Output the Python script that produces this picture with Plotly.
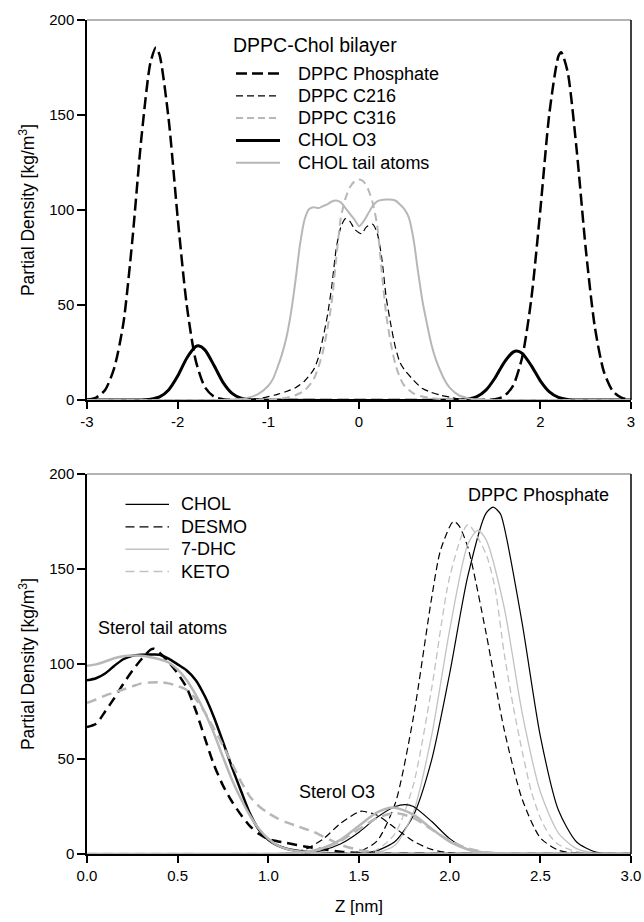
import plotly.graph_objects as go

# ---------------- Upper panel: DPPC-Chol bilayer (z from -3 to 3 nm) ----------------
phos_top_x = [-3.0, -2.9, -2.8, -2.7, -2.6, -2.5, -2.4, -2.3, -2.24, -2.2, -2.1, -2.0, -1.9, -1.8,
              -1.7, -1.6, -1.5, -1.4, -1.3, 0.0, 1.3, 1.4, 1.5, 1.6, 1.7, 1.8, 1.9, 2.0, 2.1, 2.2,
              2.23, 2.3, 2.4, 2.5, 2.6, 2.7, 2.8, 2.9, 3.0]
phos_top_y = [0.2, 1.3, 5.3, 16.8, 40, 84, 138, 177.6, 185.5, 181.7, 148, 96, 50, 20.6,
              6.8, 1.8, 0.4, 0.1, 0, 0, 0, 0.1, 0.4, 2, 7.6, 22.5, 53, 100, 151, 181,
              183, 173, 132, 80, 38.8, 15, 4.6, 1.1, 0.2]

c216_x = [-3.0, -1.3, -1.2, -1.1, -1.0, -0.9, -0.8, -0.7, -0.6, -0.5, -0.45, -0.4, -0.35, -0.3,
          -0.25, -0.2, -0.15, -0.1, -0.05, 0.0, 0.03, 0.08, 0.15, 0.2, 0.25, 0.3, 0.35, 0.4,
          0.45, 0.5, 0.6, 0.7, 0.8, 0.9, 1.0, 1.1, 1.2, 1.3, 3.0]
c216_y = [0, 0, 0.3, 0.8, 1.8, 3, 4.5, 6.5, 10, 16, 22, 32, 44, 60,
          80, 91, 95.5, 94, 90, 88, 87.5, 91, 92.5, 88, 75, 54, 40, 28,
          20, 16, 10.5, 6, 4, 2.5, 1.5, 0.6, 0.2, 0, 0]

c316_x = [-3.0, -1.2, -1.0, -0.9, -0.8, -0.7, -0.6, -0.5, -0.45, -0.4, -0.35, -0.3, -0.25, -0.2,
          -0.15, -0.1, -0.05, 0.0, 0.05, 0.1, 0.15, 0.2, 0.25, 0.3, 0.35, 0.4, 0.45, 0.5,
          0.6, 0.7, 0.8, 0.9, 1.0, 1.2, 3.0]
c316_y = [0, 0, 0.3, 0.6, 1.2, 2.5, 5, 11, 17, 25, 37, 52, 75, 96,
          106, 112, 115, 116, 115, 111, 104, 92, 68, 45, 30, 19, 12, 7.5,
          3.5, 1.8, 1, 0.5, 0.3, 0, 0]

chol_o3_top_x = [-3.0, -2.5, -2.4, -2.3, -2.2, -2.1, -2.0, -1.9, -1.8, -1.77, -1.7, -1.6, -1.5,
                 -1.4, -1.3, -1.2, -1.1, 1.1, 1.2, 1.3, 1.4, 1.5, 1.6, 1.7, 1.74, 1.8, 1.9,
                 2.0, 2.1, 2.2, 2.3, 2.4, 3.0]
chol_o3_top_y = [0, 0, 0.06, 0.4, 1.6, 5.3, 12.6, 22, 28.1, 28.5, 26.4, 18.3, 9.3,
                 3.5, 0.9, 0.2, 0, 0, 0.5, 1.8, 5.2, 11.6, 19.7, 25.2, 25.8, 24.5, 18.1,
                 10.1, 4.3, 1.4, 0.3, 0, 0]

chol_tail_top_x = [-3.0, -1.5, -1.3, -1.2, -1.1, -1.0, -0.95, -0.9, -0.85, -0.8, -0.75, -0.7,
                   -0.65, -0.6, -0.55, -0.5, -0.45, -0.4, -0.35, -0.3, -0.25, -0.2, -0.15, -0.1,
                   -0.05, 0.0, 0.05, 0.1, 0.15, 0.2, 0.3, 0.4, 0.45, 0.5, 0.55, 0.6, 0.65, 0.7,
                   0.75, 0.8, 0.85, 0.9, 0.95, 1.0, 1.1, 1.2, 1.3, 1.4, 3.0]
chol_tail_top_y = [0, 0, 0.5, 1.5, 3.5, 7.5, 11, 17, 24, 33, 46, 63,
                   82, 95, 100.5, 101.5, 101, 102, 103, 104.5, 105, 104, 101, 98,
                   95, 91.5, 94, 98, 102, 104.5, 105.5, 105, 103, 100.5, 96, 85, 68, 52,
                   40, 29, 21, 15, 10, 6.5, 2.5, 1, 0.3, 0, 0]

# ---------------- Lower panel: sterol comparison (z from 0 to 3 nm) ----------------
chol_tail_x = [0, 0.05, 0.1, 0.15, 0.2, 0.25, 0.3, 0.35, 0.4, 0.45, 0.5, 0.55, 0.6, 0.65,
               0.7, 0.75, 0.8, 0.85, 0.9, 0.95, 1.0, 1.05, 1.1, 1.2, 1.3, 1.4, 1.5, 3.0]
chol_tail_y = [91.4, 92.5, 95, 99, 102.5, 104.3, 104.9, 105, 104.9, 102.8, 99.8, 96.6, 91.5, 83,
               72, 59, 45.5, 33, 21, 12.5, 7.5, 4.5, 2.8, 1.2, 0.5, 0.2, 0, 0]

desmo_tail_x = [0, 0.05, 0.1, 0.15, 0.2, 0.25, 0.3, 0.35, 0.37, 0.4, 0.45, 0.5, 0.55, 0.6,
                0.65, 0.7, 0.75, 0.8, 0.85, 0.9, 0.95, 1.0, 1.1, 1.2, 1.3, 1.4, 1.5, 1.6, 3.0]
desmo_tail_y = [66.8, 68.5, 75, 82, 89.5, 96.5, 102.5, 107.5, 108, 106, 101, 95, 87.5, 75.5,
                61, 47, 36, 27.5, 20.5, 14.5, 10.5, 7.8, 5.8, 4, 2.5, 1.2, 0.5, 0.2, 0]

dhc_tail_x = [0, 0.05, 0.1, 0.15, 0.2, 0.25, 0.3, 0.35, 0.4, 0.45, 0.5, 0.55, 0.6, 0.65,
              0.7, 0.75, 0.8, 0.85, 0.9, 0.95, 1.0, 1.05, 1.1, 1.2, 1.3, 1.4, 3.0]
dhc_tail_y = [99.1, 99.8, 101.3, 103, 104.1, 104.5, 104.3, 103.6, 102.5, 100.8, 97, 91.5, 83.8, 74.5,
              63.5, 51, 39, 28.8, 20, 13, 8, 4.6, 2.7, 1, 0.3, 0, 0]

keto_tail_x = [0, 0.05, 0.1, 0.15, 0.2, 0.25, 0.3, 0.35, 0.4, 0.45, 0.5, 0.55, 0.6, 0.65,
               0.7, 0.75, 0.8, 0.85, 0.9, 0.95, 1.0, 1.05, 1.1, 1.15, 1.2, 1.25, 1.3, 1.35,
               1.4, 1.5, 1.6, 1.7, 1.8, 3.0]
keto_tail_y = [79.5, 81.3, 83.4, 85, 86.6, 88.2, 89.8, 90.3, 90.4, 89.8, 88.4, 86.3, 81.5, 74.5,
               66, 57, 47.5, 38, 30, 25, 21.5, 18.8, 16.6, 15, 13.3, 11.6, 9.3, 7,
               4.8, 2.1, 0.8, 0.2, 0, 0]

chol_o3_x = [0, 1.0, 1.1, 1.2, 1.3, 1.4, 1.5, 1.6, 1.7, 1.755, 1.8, 1.9, 2.0, 2.1, 2.2, 2.3, 2.4, 3.0]
chol_o3_y = [0, 0, 0.1, 0.6, 2, 5.4, 11.5, 19.3, 25, 26, 25, 17.2, 8.1, 2.5, 0.5, 0.1, 0, 0]

desmo_o3_x = [0, 0.9, 1.0, 1.1, 1.2, 1.3, 1.4, 1.5, 1.52, 1.6, 1.7, 1.8, 1.9, 2.0, 2.1, 2.2, 3.0]
desmo_o3_y = [0, 0, 0.06, 0.45, 2.3, 7.7, 16.3, 22.3, 22.5, 20.4, 13.6, 6.7, 2.4, 0.6, 0.13, 0, 0]

dhc_o3_x = [0, 1.0, 1.1, 1.2, 1.3, 1.4, 1.5, 1.6, 1.69, 1.8, 1.9, 2.0, 2.1, 2.2, 2.3, 2.4, 3.0]
dhc_o3_y = [0, 0, 0.2, 0.9, 3, 7.6, 14.9, 21.9, 24.5, 20.7, 13.3, 6.5, 2.4, 0.7, 0.14, 0, 0]

keto_o3_x = [0, 1.0, 1.1, 1.2, 1.3, 1.4, 1.5, 1.6, 1.7, 1.8, 1.9, 2.0, 2.1, 2.2, 2.3, 2.4, 2.5, 3.0]
keto_o3_y = [0, 0, 0.24, 0.9, 2.9, 7, 13, 19, 21.5, 19, 13, 7, 2.9, 0.9, 0.24, 0.05, 0, 0]

chol_phos_x = [0, 1.3, 1.4, 1.5, 1.6, 1.7, 1.8, 1.9, 2.0, 2.1, 2.2, 2.24, 2.28, 2.3, 2.4,
               2.5, 2.6, 2.7, 2.8, 2.9, 3.0]
chol_phos_y = [0, 0, 0.06, 0.37, 1.8, 6.7, 20.3, 49.3, 95, 146.2, 179.3, 182.6, 179, 172.4, 121.4,
               62.1, 23, 6.3, 1.2, 0.2, 0]

desmo_phos_x = [0, 1.3, 1.4, 1.5, 1.6, 1.7, 1.8, 1.9, 1.95, 2.02, 2.05, 2.1, 2.2, 2.3, 2.4,
                2.5, 2.6, 2.7, 2.8, 3.0]
desmo_phos_y = [0, 0, 0.15, 1.2, 6.9, 26.7, 72, 134.4, 160, 175, 173, 161.5, 116.7, 65.7, 28.8,
                8.5, 2, 0.5, 0.1, 0]

dhc_phos_x = [0, 1.4, 1.5, 1.6, 1.7, 1.8, 1.9, 2.0, 2.1, 2.155, 2.2, 2.3, 2.4, 2.5, 2.6,
              2.7, 2.8, 2.9, 3.0]
dhc_phos_y = [0, 0, 0.1, 0.8, 4.7, 22, 62, 118, 163, 170.4, 165.6, 130, 74.2, 32.8, 11,
              2.8, 0.5, 0.1, 0]

keto_phos_x = [0, 1.3, 1.4, 1.5, 1.6, 1.7, 1.8, 1.9, 2.0, 2.1, 2.2, 2.25, 2.3, 2.35, 2.4,
               2.45, 2.5, 2.55, 2.6, 2.7, 2.8, 3.0]
keto_phos_y = [0, 0, 0.03, 0.34, 2.3, 10.9, 36.5, 86.8, 145.8, 173.3, 158, 140, 106, 78, 54,
               33, 19, 10, 5, 1.2, 0.2, 0]

top_xticks = [-3, -2, -1, 0, 1, 2, 3]
top_xticktext = ["-3", "-2", "-1", "0", "1", "2", "3"]
bottom_xticks = [0, 0.5, 1.0, 1.5, 2.0, 2.5, 3.0]
yticks = [0, 50, 100, 150, 200]

top_legend_title = "DPPC-Chol bilayer"
top_legend_labels = ["DPPC Phosphate", "DPPC C216", "DPPC C316", "CHOL O3", "CHOL tail atoms"]
bottom_legend_labels = ["CHOL", "DESMO", "7-DHC", "KETO"]

# ---------------- styling ----------------
FONT = "Liberation Sans, Arial, Helvetica, sans-serif"
BLACK = "#000000"
GRAY = "#b7b7b7"
LIGHT = "#c2c2c2"

W, H = 644, 922
ML, MR, MT, MB = 87, 13, 20, 68
PW, PH = W - ML - MR, H - MT - MB
PANEL_H = 380 / PH

fig = go.Figure()


def add_line(x, y, color, width, dash, xa, ya):
    assert len(x) == len(y)
    fig.add_trace(go.Scatter(
        x=x, y=y, mode="lines", xaxis=xa, yaxis=ya, showlegend=False, hoverinfo="skip",
        line=dict(color=color, width=width, dash=dash, shape="spline", smoothing=0.7),
    ))


# upper panel: gray traces drawn last so they sit on top of the baseline
add_line(phos_top_x, phos_top_y, BLACK, 2.5, "12px,5px", "x", "y")
add_line(c216_x, c216_y, BLACK, 1.2, "7px,4px", "x", "y")
add_line(chol_o3_top_x, chol_o3_top_y, BLACK, 3, "solid", "x", "y")
add_line(c316_x, c316_y, GRAY, 2, "8px,5px", "x", "y")
add_line(chol_tail_top_x, chol_tail_top_y, GRAY, 2, "solid", "x", "y")

# lower panel: phosphates (thin), sterol O3, sterol tail atoms (thick)
add_line(chol_phos_x, chol_phos_y, BLACK, 1.2, "solid", "x2", "y2")
add_line(desmo_phos_x, desmo_phos_y, BLACK, 1.2, "7px,4px", "x2", "y2")
add_line(dhc_phos_x, dhc_phos_y, LIGHT, 1.3, "solid", "x2", "y2")
add_line(keto_phos_x, keto_phos_y, LIGHT, 1.3, "7px,4px", "x2", "y2")
add_line(chol_o3_x, chol_o3_y, BLACK, 1.2, "solid", "x2", "y2")
add_line(desmo_o3_x, desmo_o3_y, BLACK, 1.2, "7px,4px", "x2", "y2")
add_line(chol_tail_x, chol_tail_y, BLACK, 2.5, "solid", "x2", "y2")
add_line(desmo_tail_x, desmo_tail_y, BLACK, 2.5, "10px,6px", "x2", "y2")
add_line(dhc_o3_x, dhc_o3_y, GRAY, 2.5, "solid", "x2", "y2")
add_line(keto_o3_x, keto_o3_y, GRAY, 2.5, "10px,6px", "x2", "y2")
add_line(dhc_tail_x, dhc_tail_y, GRAY, 2.5, "solid", "x2", "y2")
add_line(keto_tail_x, keto_tail_y, GRAY, 2.5, "10px,6px", "x2", "y2")

axis_common = dict(
    showline=True, linecolor=BLACK, linewidth=1.5, ticks="outside", ticklen=7,
    tickwidth=1.5, tickcolor=BLACK, showgrid=False, zeroline=False, automargin=False,
    tickfont=dict(family=FONT, size=15, color=BLACK), layer="below traces",
)
ytitle = dict(text="Partial Density [kg/m<sup>3</sup>]",
              font=dict(family=FONT, size=17.5, color=BLACK), standoff=10)

fig.update_layout(
    width=W, height=H,
    margin=dict(l=ML, r=MR, t=MT, b=MB),
    paper_bgcolor="white", plot_bgcolor="white",
    showlegend=False,
    xaxis=dict(axis_common, domain=[0, 1], anchor="y", range=[-3, 3],
               tickvals=top_xticks, ticktext=top_xticktext),
    yaxis=dict(axis_common, domain=[1 - PANEL_H, 1], anchor="x", range=[0, 200],
               tickvals=yticks, ticklen=8, title=ytitle),
    xaxis2=dict(axis_common, domain=[0, 1], anchor="y2", range=[0, 3],
                tickvals=bottom_xticks, tickformat=".1f",
                title=dict(text="Z [nm]", font=dict(family=FONT, size=17, color=BLACK), standoff=17)),
    yaxis2=dict(axis_common, domain=[0, PANEL_H], anchor="x2", range=[0, 200],
                tickvals=yticks, ticklen=8, title=ytitle),
)

# frame: gray top edge and black right edge on each panel
shapes = []
for xr, yr in (("x domain", "y domain"), ("x2 domain", "y2 domain")):
    shapes.append(dict(type="line", xref=xr, yref=yr, x0=0, x1=1, y0=1, y1=1,
                       line=dict(color="#9a9a9a", width=1.5)))
    shapes.append(dict(type="line", xref=xr, yref=yr, x0=1, x1=1, y0=0, y1=1,
                       line=dict(color=BLACK, width=1.5)))


def px_x(p):
    return (p - ML) / PW


def px_y(p):
    return (H - MB - p) / PH


annotations = []

# upper key
annotations.append(dict(text=top_legend_title, xref="paper", yref="paper",
                        x=px_x(231), y=px_y(45), xanchor="left", yanchor="middle",
                        showarrow=False, font=dict(family=FONT, size=19.5, color=BLACK)))
top_key_styles = [(BLACK, 2.5, "11px,5px"), (BLACK, 1.2, "7px,4px"), (GRAY, 2, "7px,4px"),
                  (BLACK, 3, "solid"), (GRAY, 2, "solid")]
for i, (label, (c, w, d)) in enumerate(zip(top_legend_labels, top_key_styles)):
    yy = px_y(73.5 + 22.3 * i)
    shapes.append(dict(type="line", xref="paper", yref="paper", x0=px_x(236), x1=px_x(280),
                       y0=yy, y1=yy, line=dict(color=c, width=w, dash=d)))
    annotations.append(dict(text=label, xref="paper", yref="paper", x=px_x(296), y=yy,
                            xanchor="left", yanchor="middle", showarrow=False,
                            font=dict(family=FONT, size=18, color=BLACK)))

# lower key
bottom_key_styles = [(BLACK, 1.2, "solid"), (BLACK, 1.2, "9px,5px"), (LIGHT, 1.5, "solid"),
                     (LIGHT, 1.5, "9px,5px")]
for i, (label, (c, w, d)) in enumerate(zip(bottom_legend_labels, bottom_key_styles)):
    yy = px_y(504.4 + 22.4 * i)
    shapes.append(dict(type="line", xref="paper", yref="paper", x0=px_x(125.5), x1=px_x(169),
                       y0=yy, y1=yy, line=dict(color=c, width=w, dash=d)))
    annotations.append(dict(text=label, xref="paper", yref="paper", x=px_x(179), y=yy,
                            xanchor="left", yanchor="middle", showarrow=False,
                            font=dict(family=FONT, size=18, color=BLACK)))

# in-panel labels of the lower panel
for text, x, y, anchor in (("Sterol tail atoms", 0.047, 119, "left"),
                           ("Sterol O3", 1.16, 32.5, "left"),
                           ("DPPC Phosphate", 2.49, 189, "center")):
    annotations.append(dict(text=text, xref="x2", yref="y2", x=x, y=y, xanchor=anchor,
                            yanchor="middle", showarrow=False,
                            font=dict(family=FONT, size=18, color=BLACK)))

fig.update_layout(shapes=shapes, annotations=annotations)
fig.write_html("out.html")
